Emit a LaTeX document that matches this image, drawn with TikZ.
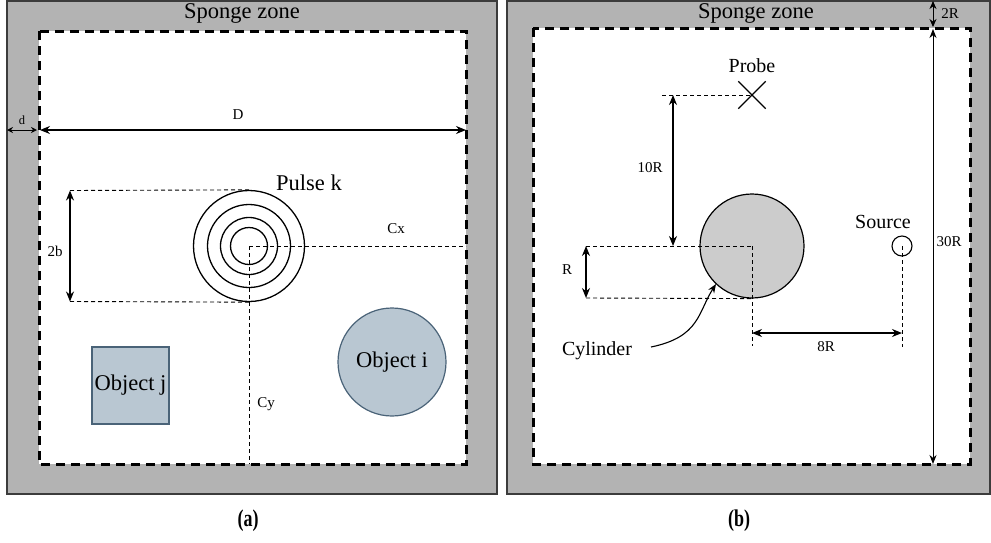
\documentclass[tikz,border=0pt]{standalone}
\usepackage{fontspec}
\usepackage{graphicx}
\setmainfont{Liberation Serif}
\usetikzlibrary{arrows.meta,shapes.misc}
\definecolor{sponge}{HTML}{B3B3B3}
\definecolor{objfill}{HTML}{B9C7D2}
\definecolor{objline}{HTML}{4A6378}
\definecolor{cylfill}{HTML}{CCCCCC}
\definecolor{framec}{HTML}{3C3C3C}
\tikzset{
  panel/.style={fill=sponge, draw=framec, line width=1.5pt},
  domainbox/.style={fill=white, draw=black, line width=3pt, dash pattern=on 9pt off 6pt},
  guide/.style={draw=black, line width=0.9pt, dash pattern=on 4pt off 3pt},
  dim/.style={line width=1.3pt, {Stealth[length=10pt,width=8pt]}-{Stealth[length=10pt,width=8pt]}},
  smalldim/.style={line width=1pt, {Stealth[length=6pt,width=6pt]}-{Stealth[length=6pt,width=6pt]}},
  ring/.style={circle, draw=black, line width=1.3pt, inner sep=0pt},
  big/.style={font=\fontsize{22.5}{26}\selectfont, inner sep=0pt},
  mid/.style={font=\fontsize{20}{24}\selectfont, inner sep=0pt},
  small/.style={font=\fontsize{15}{18}\selectfont, inner sep=0pt},
  tiny/.style={font=\fontsize{12.5}{15}\selectfont, inner sep=0pt},
  caption/.style={font=\bfseries\fontsize{24}{28}\selectfont, inner sep=0pt},
}
\begin{document}
\begin{tikzpicture}[x=1pt,y=-1pt]
\useasboundingbox (0,0) rectangle (991,542);
% ---------------- panel (a) ----------------
\path[panel] (7,1) rectangle (497,494);
\path[domainbox] (39,31) rectangle (466,464);
\node[big] (spongeA) at (242,13) {Sponge zone};
% d and D
\coordinate (dL) at (7,130);
\coordinate (dR) at (37,130);
\coordinate (DL) at (40,130);
\coordinate (DR) at (466,130);
\draw[smalldim] (dL) -- (dR);
\draw[dim] (DL) -- (DR);
\node[tiny] (dlab) at (22,120) {d};
\node[small] (Dlab) at (238,115) {D};
% pulse
\coordinate (pc) at (249,246);
\node[ring, minimum size=111pt] (pulse4) at (pc) {};
\node[ring, minimum size=83pt] (pulse3) at (pc) {};
\node[ring, minimum size=57pt] (pulse2) at (pc) {};
\node[ring, minimum size=37pt] (pulse1) at (pc) {};
\node[big] (pulselab) at (309,183) {Pulse k};
% 2b
\coordinate (bt) at (70,190.5);
\coordinate (bb) at (70,301.5);
\draw[guide] (bt) -- (pulse4.north);
\draw[guide] (bb) -- (pulse4.south);
\draw[dim] (bt) -- (bb);
\node[small] (blab) at (55,251) {2b};
% Cx, Cy
\coordinate (cxend) at (466,246);
\coordinate (cyend) at (249,464);
\draw[guide] (pc) -- (cxend);
\draw[guide] (pc) -- (cyend);
\node[small] (cxlab) at (396,229) {Cx};
\node[small] (cylab) at (266,404) {Cy};
% objects
\node[draw=objline, fill=objfill, line width=1.2pt, minimum size=77pt, inner sep=0pt, big] (objj) at (130.5,385.5) {Object j};
\node[circle, draw=objline, fill=objfill, line width=1.2pt, minimum size=108pt, inner sep=0pt, big] (obji) at (392,362) {\raisebox{-2pt}{Object i}};
% ---------------- panel (b) ----------------
\path[panel] (507,1) rectangle (990,494);
\path[domainbox] (533,28) rectangle (970,464);
\node[big] (spongeB) at (756,13) {Sponge zone};
% cylinder
\node[circle, draw=black, fill=cylfill, line width=1.2pt, minimum size=104pt, inner sep=0pt] (cyl) at (752,246) {};
% probe
\node[cross out, draw=black, line width=1.3pt, minimum size=26pt, inner sep=0pt] (probe) at (752,95) {};
\node[mid] (probelab) at (752,66) {Probe};
% 10R
\coordinate (tenT) at (673,95);
\coordinate (tenB) at (673,246);
\coordinate (tenG) at (662,95);
\draw[guide] (tenG) -- (probe.center);
\draw[dim] (tenT) -- (tenB);
\node[small] (tenlab) at (650,168) {10R};
% R
\coordinate (rT) at (586,246);
\coordinate (rB) at (586,298);
\coordinate (cylDown) at (752,346);
\draw[guide] (rT) -- (cyl.center);
\draw[guide] (rB) -- (cyl.south);
\draw[guide] (cyl.center) -- (cylDown);
\draw[dim] (rT) -- (rB);
\node[small] (rlab) at (567,270) {R};
% source
\node[circle, draw=black, line width=1.1pt, minimum size=20pt, inner sep=0pt] (src) at (902,246) {};
\node[mid] (srclab) at (883,222) {Source};
\coordinate (srcDown) at (902,347);
\draw[guide] (src.center) -- (srcDown);
% 8R
\coordinate (eL) at (752,333);
\coordinate (eR) at (902,333);
\draw[dim] (eL) -- (eR);
\node[small] (eightlab) at (826,347) {8R};
% cylinder label
\node[mid] (cyllab) at (597,351) {Cylinder};
\coordinate (cylArrowStart) at (651,347);
\coordinate (cylArrowEnd) at (716,284);
\draw[line width=1.1pt, -{Stealth[length=9pt,width=7pt]}] (cylArrowStart) .. controls (700,337) and (698,312) .. (cylArrowEnd);
% 2R and 30R
\coordinate (twoT) at (933,1);
\coordinate (twoB) at (933,27);
\coordinate (thirtyT) at (933,29);
\coordinate (thirtyB) at (933,464);
\draw[line width=1pt, {Stealth[length=8pt,width=7pt]}-{Stealth[length=8pt,width=7pt]}] (twoT) -- (twoB);
\draw[line width=1pt, {Stealth[length=9pt,width=7pt]}-{Stealth[length=9pt,width=7pt]}] (thirtyT) -- (thirtyB);
\node[small] (twolab) at (950,14) {2R};
\node[small] (thirtylab) at (949,242) {30R};
% captions
\node[caption] (capa) at (248,521) {\scalebox{0.75}[1]{(a)}};
\node[caption] (capb) at (739,521) {\scalebox{0.75}[1]{(b)}};
\end{tikzpicture}
\end{document}
